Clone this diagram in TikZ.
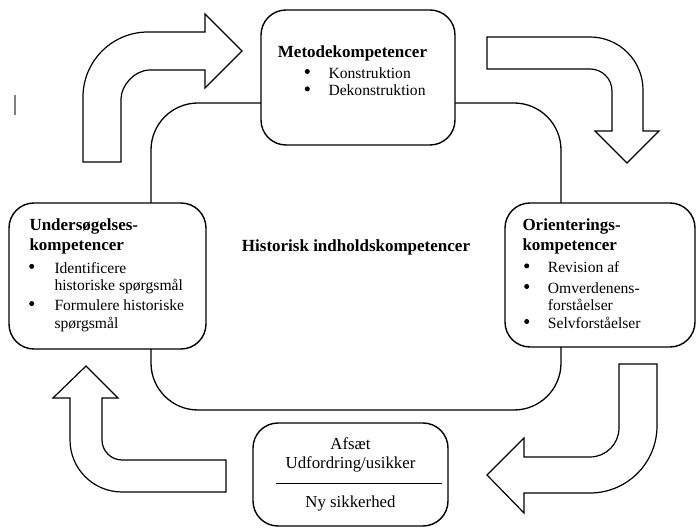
\documentclass[tikz,border=0pt]{standalone}
\usepackage{fontspec}
\setmainfont{Liberation Serif}
\begin{document}
\begin{tikzpicture}[x=1pt,y=-1pt,
  box/.style={draw, line width=1.4pt, rounded corners=25pt, fill=white, inner sep=0pt},
  frame/.style={draw, line width=1.3pt, rounded corners=47pt},
  blockarrow/.style={draw, line width=1.2pt, fill=white, line join=miter},
  head/.style={font=\fontsize{17}{20}\selectfont\bfseries, inner sep=0pt},
  txt/.style={font=\fontsize{15.6}{18}\selectfont, inner sep=0pt},
  btxt/.style={font=\fontsize{16.8}{19}\selectfont, inner sep=0pt},
  dot/.style={circle, fill=black, inner sep=0pt, minimum size=5pt}]
\useasboundingbox (0,0) rectangle (697,529);
\fill[white] (0,0) rectangle (697,529);

% stray cursor mark
\draw[gray, line width=1.5pt] (15,95) -- (15,115);

% background frame
\draw[frame] (151,103) rectangle (561,410);

% block arrows
\path[blockarrow] (83,162) -- (83,97) .. controls (83,61.1) and (112.1,32) .. (148,32)
  -- (205,32) -- (205,14) -- (242,51) -- (205,88) -- (205,70) -- (150,70)
  .. controls (134,70) and (121,86) .. (121,99) -- (121,162) -- cycle;
\path[blockarrow] (487,37) -- (590,37) .. controls (619.3,37) and (643,60.7) .. (643,90)
  -- (643,131) -- (659,131) -- (627,163) -- (595,131) -- (612,131) -- (612,91)
  .. controls (612,78.8) and (602.2,69) .. (590,69) -- (487,69) -- cycle;
\path[blockarrow] (619,364) -- (657,364) -- (657,426) .. controls (657,463) and (627,493) .. (590,493)
  -- (524,493) -- (524,513) -- (487,475) -- (524,438) -- (524,457) -- (590,457)
  .. controls (606,457) and (619,444) .. (619,428) -- cycle;
\path[blockarrow] (102,398) -- (102,440) .. controls (102,451) and (111,460) .. (122,460)
  -- (226,460) -- (226,492) -- (122,492) .. controls (93.3,492) and (70,468.7) .. (70,440)
  -- (70,398) -- (53,398) -- (86,366) -- (118,398) -- cycle;

% boxes
\node[box, minimum width=194pt, minimum height=135pt] (metode) at (358,77.5) {};
\node[box, minimum width=197pt, minimum height=146pt] (unders) at (107.5,276) {};
\node[box, minimum width=190pt, minimum height=144pt] (orient) at (600,275) {};
\node[box, minimum width=195pt, minimum height=103pt] (afsaet) at (350.5,474.5) {};

% Metode text
\node[head, anchor=base] (mh) at (352.5,57.3) {Metodekompetencer};
\node[dot] (md1) at (307.3,71.5) {};
\node[txt, anchor=base west] (mt1) at (328.3,78.3) {Konstruktion};
\node[dot] (md2) at (307.3,88.9) {};
\node[txt, anchor=base west] (mt2) at (328.3,95.7) {Dekonstruktion};

% Undersøgelses text
\node[head, anchor=base west] (uh1) at (29.3,230.5) {Undersøgelses-};
\node[head, anchor=base west] (uh2) at (29.3,250.5) {kompetencer};
\node[dot] (ud1) at (31.7,266.4) {};
\node[txt, anchor=base west] (ut1) at (54.3,273.3) {Identificere};
\node[txt, anchor=base west] (ut2) at (54.3,291) {historiske spørgsmål};
\node[dot] (ud2) at (31.7,303.6) {};
\node[txt, anchor=base west] (ut3) at (54.3,310.7) {Formulere historiske};
\node[txt, anchor=base west] (ut4) at (54.3,328.5) {spørgsmål};

% Orienterings text
\node[head, anchor=base west] (oh1) at (522.3,230.7) {Orienterings-};
\node[head, anchor=base west] (oh2) at (522.3,250.7) {kompetencer};
\node[dot] (od1) at (526.7,265.9) {};
\node[txt, anchor=base west] (ot1) at (547.7,272.7) {Revision af};
\node[dot] (od2) at (526.7,286.5) {};
\node[txt, anchor=base west] (ot2) at (547.7,293.3) {Omverdenens-};
\node[txt, anchor=base west] (ot3) at (547.7,310.7) {forståelser};
\node[dot] (od3) at (526.7,321.5) {};
\node[txt, anchor=base west] (ot4) at (547.7,328.3) {Selvforståelser};

% centre text
\node[head, anchor=base] (hist) at (356,251.7) {Historisk indholdskompetencer};

% bottom box text
\node[btxt, anchor=base] (b1) at (350.5,450) {Afsæt};
\node[btxt, anchor=base] (b2) at (350.5,469) {Udfordring/usikker};
\coordinate (sepL) at (276,483);
\coordinate (sepR) at (442,483);
\draw[line width=0.8pt] (sepL) -- (sepR);
\node[btxt, anchor=base] (b3) at (350.5,507.7) {Ny sikkerhed};
\end{tikzpicture}
\end{document}
